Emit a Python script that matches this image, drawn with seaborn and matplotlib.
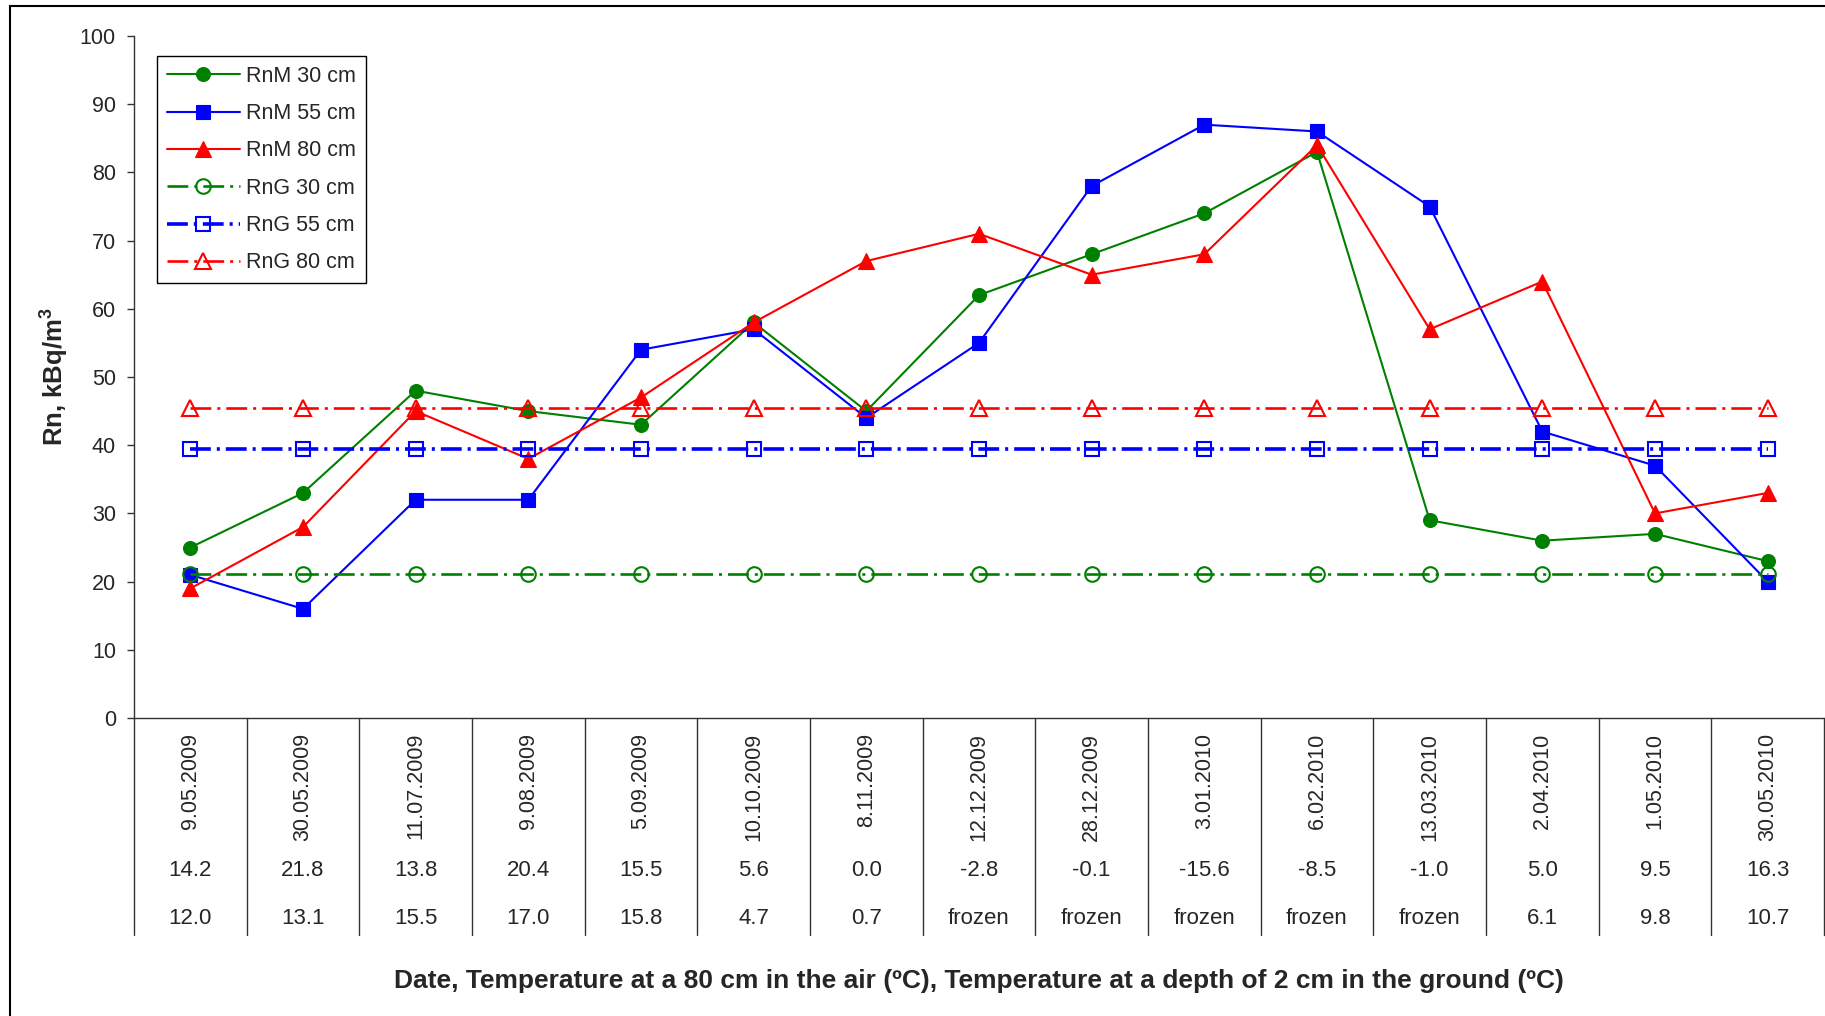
import numpy as np
import pandas as pd
import matplotlib; matplotlib.use("Agg")
import matplotlib.pyplot as plt
import seaborn as sns
from matplotlib.lines import Line2D
from matplotlib.patches import Rectangle

# ── data ────────────────────────────────────────────────────────────────────
dates = ["9.05.2009", "30.05.2009", "11.07.2009", "9.08.2009", "5.09.2009",
         "10.10.2009", "8.11.2009", "12.12.2009", "28.12.2009", "3.01.2010",
         "6.02.2010", "13.03.2010", "2.04.2010", "1.05.2010", "30.05.2010"]
t_air = ["14.2", "21.8", "13.8", "20.4", "15.5", "5.6", "0.0", "-2.8",
         "-0.1", "-15.6", "-8.5", "-1.0", "5.0", "9.5", "16.3"]
t_ground = ["12.0", "13.1", "15.5", "17.0", "15.8", "4.7", "0.7", "frozen",
            "frozen", "frozen", "frozen", "frozen", "6.1", "9.8", "10.7"]

rnm_30 = [25, 33, 48, 45, 43, 58, 45, 62, 68, 74, 83, 29, 26, 27, 23]
rnm_55 = [21, 16, 32, 32, 54, 57, 44, 55, 78, 87, 86, 75, 42, 37, 20]
rnm_80 = [19, 28, 45, 38, 47, 58, 67, 71, 65, 68, 84, 57, 64, 30, 33]
rng_30 = [21.1, 21.1, 21.1, 21.1, 21.1, 21.1, 21.1, 21.1, 21.1, 21.1, 21.1, 21.1, 21.1, 21.1, 21.1]
rng_55 = [39.5, 39.5, 39.5, 39.5, 39.5, 39.5, 39.5, 39.5, 39.5, 39.5, 39.5, 39.5, 39.5, 39.5, 39.5]
rng_80 = [45.5, 45.5, 45.5, 45.5, 45.5, 45.5, 45.5, 45.5, 45.5, 45.5, 45.5, 45.5, 45.5, 45.5, 45.5]

GREEN, BLUE, RED = "#008000", "#0000FF", "#FF0000"

# ── style ───────────────────────────────────────────────────────────────────
sns.set_theme(style="ticks")
plt.rcParams["font.family"] = ["Liberation Sans", "DejaVu Sans"]
plt.rcParams["mathtext.fontset"] = "custom"
plt.rcParams["mathtext.rm"] = "Liberation Sans"
plt.rcParams["mathtext.bf"] = "Liberation Sans:bold"
plt.rcParams["lines.scale_dashes"] = False

W, H = 1825, 1016
fig = plt.figure(figsize=(W / 100, H / 100), dpi=100)
ax_l, ax_r, ax_t, ax_b = 134, 1824, 36, 718
ax = fig.add_axes([ax_l / W, 1 - ax_b / H, (ax_r - ax_l) / W, (ax_b - ax_t) / H])
ax_h = ax_b - ax_t

DASHDOT = (15, 4.3, 2.2, 4.3)

series = [
    (rnm_30, "RnM 30 cm", GREEN, "o", 10, 1.5, None, True),
    (rnm_55, "RnM 55 cm", BLUE, "s", 10, 1.5, None, True),
    (rnm_80, "RnM 80 cm", RED, "^", 12, 1.5, None, True),
    (rng_30, "RnG 30 cm", GREEN, "o", 10.5, 1.9, DASHDOT, False),
    (rng_55, "RnG 55 cm", BLUE, "s", 10.5, 2.6, DASHDOT, False),
    (rng_80, "RnG 80 cm", RED, "^", 11.5, 1.9, DASHDOT, False),
]
for vals, label, col, mk, ms, lw, dashes, filled in series:
    kw = dict(color=col, marker=mk, markersize=ms, linewidth=lw,
              markeredgecolor=col, markeredgewidth=1.5 if not filled else 0.8,
              markerfacecolor=col if filled else "none")
    sns.lineplot(x=dates, y=vals, ax=ax, label=label, sort=False, **kw)
    if dashes is not None:
        ax.lines[-1].set_dashes(dashes)

# ── axes ────────────────────────────────────────────────────────────────────
ax.set_xlim(-0.5, len(dates) - 0.5)
ax.set_ylim(0, 100)
ax.set_yticks(np.arange(0, 101, 10))
ax.tick_params(axis="y", labelsize=15.5, length=5, width=1, pad=8, color="#333333")
ax.tick_params(axis="x", length=0, labelbottom=False)
for s in ["top", "right"]:
    ax.spines[s].set_visible(False)
for s in ["left", "bottom"]:
    ax.spines[s].set_color("#333333")
    ax.spines[s].set_linewidth(1)
ax.grid(False)

# table under the axis
tr = ax.get_xaxis_transform()
y_line_end = (ax_b - 935) / ax_h
for k in range(len(dates) + 1):
    ax.add_line(Line2D([k - 0.5, k - 0.5], [0, y_line_end], transform=tr,
                       color="#333333", lw=1, clip_on=False))
y_date = (ax_b - 733) / ax_h
y_air = (ax_b - 870) / ax_h
y_gr = (ax_b - 918) / ax_h
for i, (d, a, g) in enumerate(zip(dates, t_air, t_ground)):
    ax.text(i, y_date, d, transform=tr, rotation=90, ha="center", va="top", fontsize=15.5)
    ax.text(i, y_air, a, transform=tr, ha="center", va="center", fontsize=16)
    ax.text(i, y_gr, g, transform=tr, ha="center", va="center", fontsize=16)

ax.set_xlabel("Date, Temperature at a 80 cm in the air (ºC), "
              "Temperature at a depth of 2 cm in the ground (ºC)",
              fontsize=19, fontweight="bold", va="center")
ax.xaxis.set_label_coords(0.5, (ax_b - 981) / ax_h)
ax.set_ylabel(r"Rn, kBq/m$^\mathbf{3}$", fontsize=18.5, fontweight="bold", va="center")
ax.yaxis.set_label_coords((54 - ax_l) / (ax_r - ax_l), 0.5)

leg = ax.legend(loc="upper left",
                bbox_to_anchor=((157 - ax_l) / (ax_r - ax_l), (ax_b - 56) / ax_h),
                borderaxespad=0, fontsize=15.5, frameon=True, fancybox=False,
                framealpha=1, edgecolor="black", handlelength=3.4,
                handletextpad=0.3, labelspacing=0.76, borderpad=0.45, numpoints=1)
leg.get_frame().set_linewidth(1)

# chart area border (cut at right and bottom)
fig.patches.append(Rectangle((10 / W, -0.5), 2, 1 - 6 / H + 0.5, transform=fig.transFigure,
                             fill=False, ec="black", lw=1.5))

fig.savefig("out.png", dpi=100, facecolor="white")
